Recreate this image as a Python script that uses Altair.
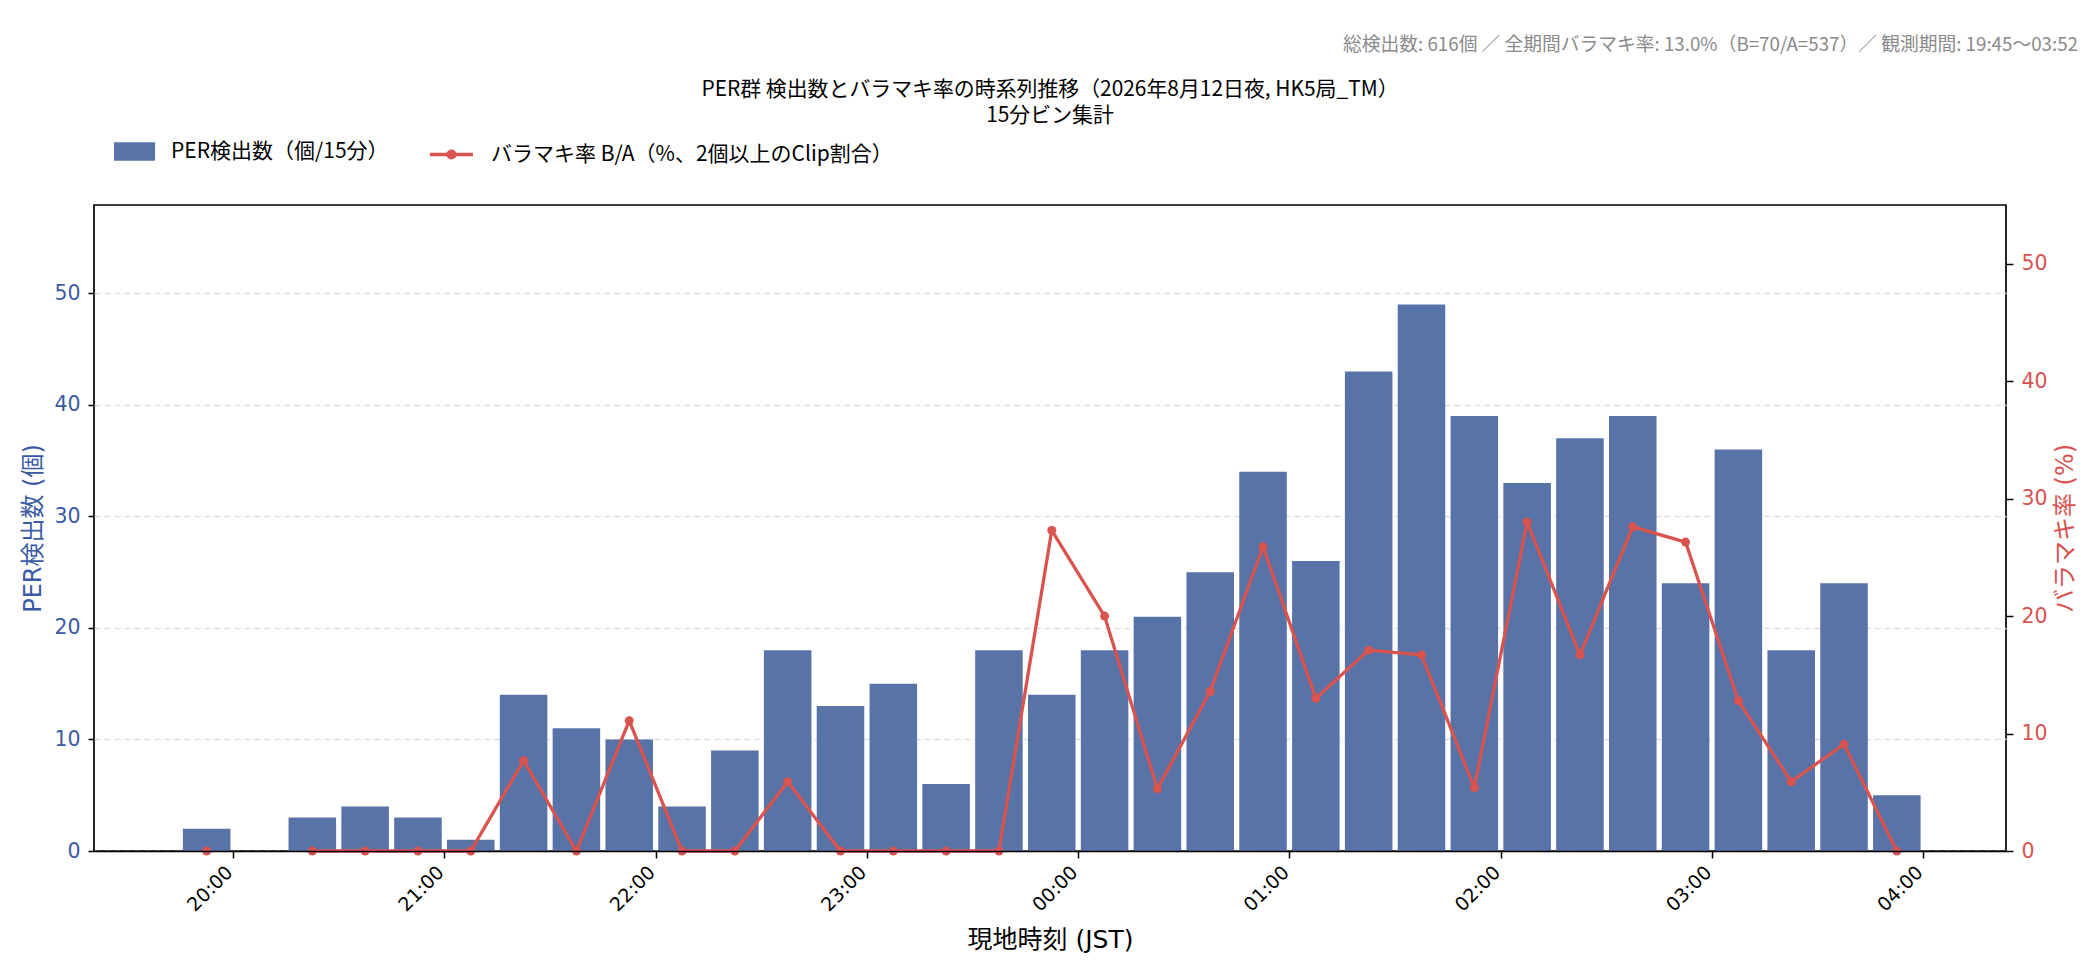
import altair as alt
import pandas as pd

# ---------------- data ----------------
bin_starts = ["19:45", "20:00", "20:15", "20:30", "20:45", "21:00", "21:15", "21:30",
              "21:45", "22:00", "22:15", "22:30", "22:45", "23:00", "23:15", "23:30",
              "23:45", "00:00", "00:15", "00:30", "00:45", "01:00", "01:15", "01:30",
              "01:45", "02:00", "02:15", "02:30", "02:45", "03:00", "03:15", "03:30",
              "03:45"]
counts = [2, 0, 3, 4, 3, 1, 14, 11, 10, 4, 9, 18, 13, 15, 6, 18,
          14, 18, 21, 25, 34, 26, 43, 49, 39, 33, 37, 39, 24, 36, 18, 24, 5]
rates = [0.0, None, 0.0, 0.0, 0.0, 0.0, 7.7, 0.0, 11.1, 0.0, 0.0, 5.9, 0.0, 0.0, 0.0, 0.0,
         27.3, 20.0, 5.3, 13.6, 25.9, 13.0, 17.1, 16.7, 5.4, 28.0, 16.7, 27.6, 26.3, 12.8,
         5.9, 9.1, 0.0]
x_tick_labels = ["20:00", "21:00", "22:00", "23:00", "00:00", "01:00", "02:00", "03:00", "04:00"]
y_left_ticks = [0, 10, 20, 30, 40, 50]
y_right_ticks = [0, 10, 20, 30, 40, 50]

title_lines = ["PER群 検出数とバラマキ率の時系列推移（2026年8月12日夜, HK5局_TM）", "15分ビン集計"]
annotation = "総検出数: 616個 ／ 全期間バラマキ率: 13.0%（B=70/A=537）／ 観測期間: 19:45〜03:52"
bar_label = "PER検出数（個/15分）"
line_label = "バラマキ率 B/A（%、2個以上のClip割合）"

# ---------------- styling ----------------
BAR_COLOR = "#5873a8"
BLUE_TXT = "#3b5ba5"
RED = "#d9534f"
CJK = "Noto Sans CJK JP"
MPL = "DejaVu Sans, Noto Sans CJK JP"


def to_ts(hhmm):
    h, m = map(int, hhmm.split(":"))
    day = 12 if h >= 12 else 13
    return pd.Timestamp(2026, 8, day, h, m)


def to_dt(hhmm, sec=0):
    h, m = map(int, hhmm.split(":"))
    day = 12 if h >= 12 else 13
    return alt.DateTime(year=2026, month=8, date=day, hours=h, minutes=m, seconds=sec)


starts = pd.Series([to_ts(s) for s in bin_starts])
df = pd.DataFrame({
    "x0": starts + pd.Timedelta(seconds=45),
    "x1": starts + pd.Timedelta(minutes=14, seconds=15),
    "center": starts + pd.Timedelta(minutes=7, seconds=30),
    "count": counts,
    "rate": rates,
    "bar_series": bar_label,
    "line_series": line_label,
})

x_scale = alt.Scale(domain=[to_dt("19:20", 30), to_dt("04:23", 30)], nice=False)
x_axis = alt.Axis(
    values=[to_dt(t) for t in x_tick_labels], format="%H:%M",
    title="現地時刻 (JST)", titleFont=MPL, titleFontSize=25, titleFontWeight="normal",
    titleColor="black", titlePadding=13,
    labelAngle=315, labelAlign="right", labelBaseline="middle",
    labelFont=MPL, labelFontSize=19, labelColor="black", labelPadding=11,
    labelOffset=-4,
    tickSize=7, tickWidth=1.5, tickColor="black",
    domain=True, domainColor="black", domainWidth=1.7, zindex=1, grid=False,
)

base = alt.Chart(df)

bars = base.mark_bar(opacity=1, strokeWidth=0).encode(
    x=alt.X("x0:T", scale=x_scale, axis=x_axis),
    x2="x1:T",
    y=alt.Y("count:Q",
            scale=alt.Scale(domain=[0, 57.92], nice=False, zero=True),
            axis=alt.Axis(values=y_left_ticks, title="PER検出数 (個)", orient="left",
                          titleFont=MPL, titleFontSize=24, titleFontWeight="normal",
                          titleColor=BLUE_TXT, titlePadding=8,
                          labelFont=MPL, labelFontSize=20.5, labelColor=BLUE_TXT,
                          labelPadding=8, tickSize=6, tickWidth=1.5, tickColor="black",
                          domain=False, grid=True, gridDash=[6, 4], gridColor="#dedede",
                          gridWidth=1.3)),
    y2=alt.datum(0),
    fill=alt.Fill("bar_series:N",
                  scale=alt.Scale(domain=[bar_label], range=[BAR_COLOR]),
                  legend=alt.Legend(title=None, orient="none", legendX=20, legendY=-74,
                                    symbolType="M-1,-0.45L1,-0.45L1,0.45L-1,0.45Z",
                                    symbolSize=1681, symbolStrokeWidth=0,
                                    symbolOpacity=1,
                                    labelFont=CJK, labelFontSize=21, labelColor="black",
                                    labelOffset=16, labelLimit=800)),
)

right_axis = alt.Axis(values=y_right_ticks, title="バラマキ率 (%)", orient="right",
                      titleFont=MPL, titleFontSize=24, titleFontWeight="normal",
                      titleColor=RED, titleAngle=270, titleBaseline="top", titlePadding=6,
                      labelFont=MPL, labelFontSize=20.5, labelColor=RED,
                      labelPadding=8, tickSize=7, tickWidth=1.5, tickColor="black",
                      domain=False, grid=False)
right_scale = alt.Scale(domain=[0, 55.0], nice=False, zero=True)

line = base.mark_line(strokeWidth=3.3, invalid="break-paths-show-domains").encode(
    x=alt.X("center:T", scale=x_scale, axis=x_axis),
    y=alt.Y("rate:Q", scale=right_scale, axis=right_axis),
    stroke=alt.Stroke("line_series:N",
                      scale=alt.Scale(domain=[line_label], range=[RED]),
                      legend=alt.Legend(title=None, orient="none", legendX=334, legendY=-74,
                                        symbolType="M-1,0L1,0M-0.16,0A0.16,0.16,0,1,1,0.16,0A0.16,0.16,0,1,1,-0.16,0Z",
                                        symbolSize=1849, symbolStrokeWidth=3.3,
                                        symbolFillColor=RED, symbolOpacity=1,
                                        labelFont=CJK, labelFontSize=21, labelColor="black",
                                        labelOffset=16, labelLimit=800)),
)

points = base.mark_circle(size=80, color=RED, opacity=1).encode(
    x=alt.X("center:T", scale=x_scale, axis=x_axis),
    y=alt.Y("rate:Q", scale=right_scale, axis=right_axis),
)

note = alt.Chart(pd.DataFrame({"t": [annotation]})).mark_text(
    align="right", baseline="middle", font=CJK, fontSize=18.75, color="#8a8a8a"
).encode(x=alt.value(1984), y=alt.value(-160), text="t:N")

chart = alt.layer(
    bars + note,
    alt.layer(line, points),
).resolve_scale(
    y="independent", fill="independent", stroke="independent"
).properties(
    width=1912, height=646,
    title=alt.Title(text=title_lines, font=CJK, fontSize=20.9, fontWeight="normal",
                    color="black", anchor="middle", lineHeight=26, offset=10, dy=100),
    padding={"left": 13, "top": 28, "right": 5, "bottom": 5},
).configure(
    background="white",
    view=alt.ViewConfig(stroke="black", strokeWidth=1.7),
)

chart.save("out.html", embed_options={"renderer": "svg", "actions": False})
